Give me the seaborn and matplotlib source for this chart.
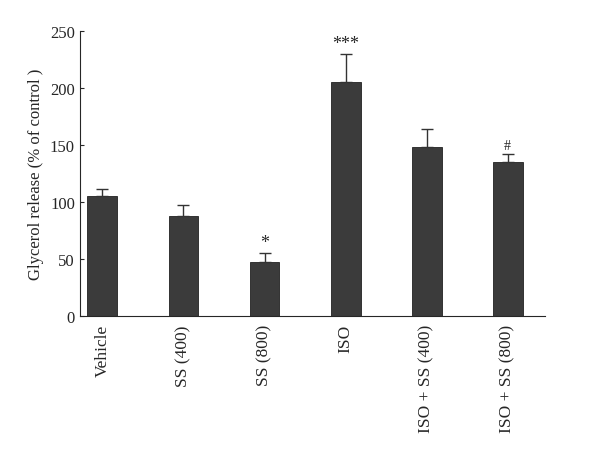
import matplotlib
matplotlib.use("Agg")
import matplotlib.pyplot as plt
import seaborn as sns
import pandas as pd

categories = ["Vehicle", "SS (400)", "SS (800)", "ISO", "ISO + SS (400)", "ISO + SS (800)"]
values = [105, 88, 47, 205, 148, 135]
errors = [6, 9, 8, 25, 16, 7]
marks = ["", "", "*", "***", "", "#"]

sns.set_style("ticks")
plt.rcParams['font.family'] = ['Liberation Serif', 'DejaVu Serif']

fig = plt.figure(figsize=(6, 4.64), dpi=100)
ax = fig.add_axes([0.133, 0.317, 0.775, 0.614])
df = pd.DataFrame({"cat": categories, "val": values})
sns.barplot(data=df, x="cat", y="val", color="#3b3b3b", saturation=1, width=0.37,
            edgecolor="#222222", linewidth=0.6, ax=ax)
ax.errorbar(range(len(values)), values, yerr=[[0]*len(errors), errors], fmt="none",
            ecolor="#333333", elinewidth=1, capsize=4)
for i, (v, e, m) in enumerate(zip(values, errors, marks)):
    if m:
        ax.text(i, v + e + 2, m, ha="center", va="bottom", fontsize=13 if m != "#" else 10)
ax.set_xlim(-0.28, 5.46)
ax.set_ylim(0, 250)
ax.set_yticks(range(0, 251, 50))
ax.set_xlabel("")
ax.set_ylabel("Glycerol release (% of control )", fontsize=12)
ax.tick_params(axis="x", rotation=90, labelsize=12.5, length=0, pad=6)
ax.tick_params(axis="y", labelsize=12, direction="in", length=3)
sns.despine(ax=ax)
fig.savefig("out.png", dpi=100)
